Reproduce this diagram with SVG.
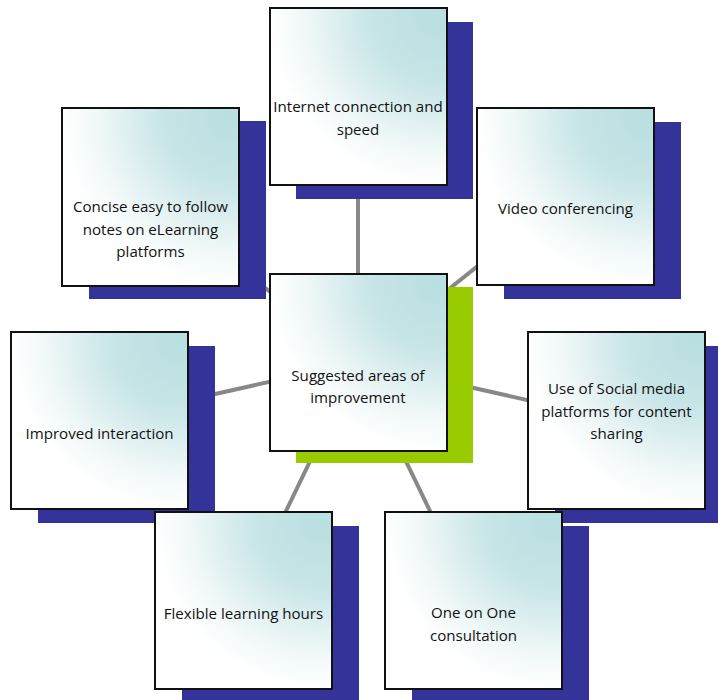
<svg xmlns="http://www.w3.org/2000/svg" width="718" height="700" viewBox="0 0 718 700">
<defs>
<radialGradient id="fillG" cx="0.95" cy="0.05" r="0.95" fx="0.95" fy="0.05">
<stop offset="0" stop-color="#b8dfe1"/>
<stop offset="0.4" stop-color="#c8e5e7"/>
<stop offset="0.8" stop-color="#f1f8f8"/>
<stop offset="1" stop-color="#ffffff"/>
</radialGradient>
</defs>
<style>
.box{fill:url(#fillG);stroke:#111;stroke-width:2}
.sh{fill:#333399}
.shc{fill:#99cc00}
.lbl{font-family:"Open Sans","Lato",sans-serif;font-size:15.1px;fill:#111;text-anchor:middle}
.con{stroke:#888;stroke-width:4;fill:none}
</style>
<rect width="718" height="700" fill="#fff"/>
<g id="connectors">
<line class="con" x1="358" y1="362" x2="358" y2="96"/>
<line class="con" x1="358" y1="362" x2="150" y2="196"/>
<line class="con" x1="358" y1="362" x2="565" y2="196"/>
<line class="con" x1="358" y1="362" x2="99" y2="420"/>
<line class="con" x1="358" y1="362" x2="616" y2="420"/>
<line class="con" x1="358" y1="362" x2="243" y2="600"/>
<line class="con" x1="358" y1="362" x2="473" y2="600"/>
</g>
<g id="node-internet">
<rect class="sh" x="296" y="22" width="177" height="177"/>
<rect class="box" x="270" y="8" width="177" height="177"/>
<text class="lbl" x="358" y="112">Internet connection and</text>
<text class="lbl" x="358" y="134.5">speed</text>
</g>
<g id="node-concise">
<rect class="sh" x="89" y="121" width="177" height="178"/>
<rect class="box" x="62" y="108" width="177" height="178"/>
<text class="lbl" x="150.5" y="212">Concise easy to follow</text>
<text class="lbl" x="150.5" y="234.5">notes on eLearning</text>
<text class="lbl" x="150.5" y="257">platforms</text>
</g>
<g id="node-video">
<rect class="sh" x="504" y="122" width="177" height="177"/>
<rect class="box" x="477" y="108" width="177" height="177"/>
<text class="lbl" x="565.5" y="214">Video conferencing</text>
</g>
<g id="node-center">
<rect class="shc" x="296" y="287" width="177" height="176"/>
<rect class="box" x="270" y="274" width="177" height="177"/>
<text class="lbl" x="358" y="380.5">Suggested areas of</text>
<text class="lbl" x="358" y="403">improvement</text>
</g>
<g id="node-improved">
<rect class="sh" x="38" y="346" width="177" height="177"/>
<rect class="box" x="11" y="332" width="177" height="177"/>
<text class="lbl" x="99.5" y="439">Improved interaction</text>
</g>
<g id="node-social">
<rect class="sh" x="555" y="346" width="177" height="177"/>
<rect class="box" x="528" y="332" width="177" height="177"/>
<text class="lbl" x="616.5" y="394">Use of Social media</text>
<text class="lbl" x="616.5" y="416.5">platforms for content</text>
<text class="lbl" x="616.5" y="439">sharing</text>
</g>
<g id="node-flexible">
<rect class="sh" x="182" y="526" width="177" height="177"/>
<rect class="box" x="155" y="512" width="177" height="177"/>
<text class="lbl" x="243.5" y="619">Flexible learning hours</text>
</g>
<g id="node-oneonone">
<rect class="sh" x="412" y="526" width="177" height="177"/>
<rect class="box" x="385" y="512" width="177" height="177"/>
<text class="lbl" x="473.5" y="618">One on One</text>
<text class="lbl" x="473.5" y="640.5">consultation</text>
</g>
</svg>
